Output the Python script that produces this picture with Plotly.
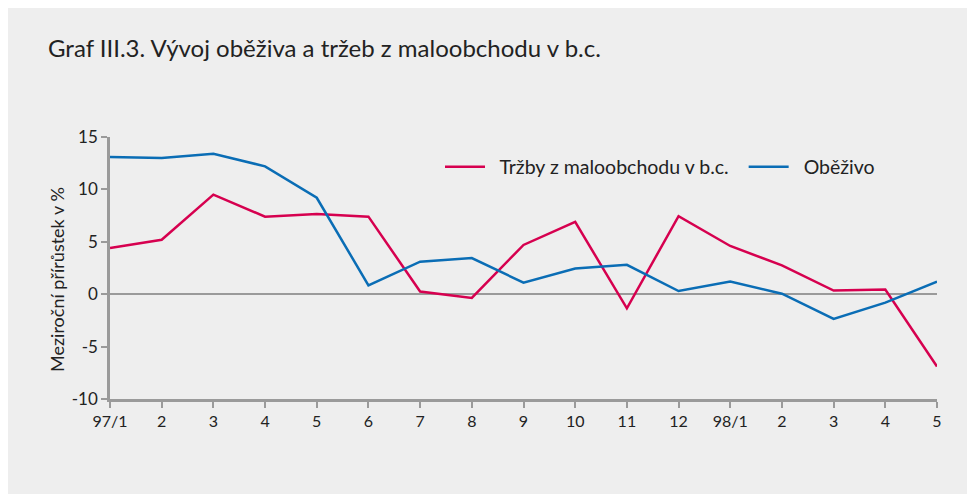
import plotly.graph_objects as go

categories = ["97/1", "2", "3", "4", "5", "6", "7", "8", "9", "10", "11", "12",
              "98/1", "2", "3", "4", "5"]
trzby = [4.4, 5.2, 9.5, 7.4, 7.65, 7.4, 0.25, -0.35, 4.7, 6.9, -1.35, 7.45,
         4.6, 2.75, 0.35, 0.45, -6.9]
obezivo = [13.1, 13.0, 13.4, 12.2, 9.2, 0.85, 3.1, 3.45, 1.1, 2.45, 2.8, 0.3,
           1.2, 0.05, -2.35, -0.8, 1.2]
y_ticks = [-10, -5, 0, 5, 10, 15]
y_tick_text = ["-10", "-5", "0", "5", "10", "15"]

FONT = "Lato, Open Sans, sans-serif"
RED = "#d6004f"
BLUE = "#0a6db5"
GRID = "#9a9a9a"
NB = "\u00a0"

x = list(range(len(categories)))

fig = go.Figure()
fig.add_trace(go.Scatter(x=x, y=trzby, mode="lines",
                         name=NB * 2 + "Tržby z maloobchodu v b.c." + NB * 2,
                         line=dict(color=RED, width=2.5)))
fig.add_trace(go.Scatter(x=x, y=obezivo, mode="lines", name=NB * 2 + "Oběživo",
                         line=dict(color=BLUE, width=2.5)))

OFF = 8  # page offset
L, R, T = 102, 46, 129
W, H = 975, 494
B = H - (399 - OFF)
pw, ph = W - L - R, H - T - B

def px(p):
    return (p - OFF - L) / pw

def py(p):
    return (H - B - (p - OFF)) / ph

fig.update_layout(
    width=W, height=H,
    margin=dict(l=L, r=R, t=T, b=B),
    paper_bgcolor="#eeeeee", plot_bgcolor="#eeeeee",
    font=dict(family=FONT, size=16, color="#222222"),
    showlegend=True,
    legend=dict(orientation="h", x=px(440), y=py(167), xanchor="left", yanchor="middle",
                bgcolor="rgba(0,0,0,0)", font=dict(size=19.5, family=FONT),
                itemwidth=40, traceorder="normal"),
    xaxis=dict(range=[0, 16], tickmode="array", tickvals=x, ticktext=categories,
               showgrid=False, zeroline=False, showline=True, linecolor=GRID, linewidth=2.5,
               ticks="outside", ticklen=6, tickwidth=2, tickcolor=GRID,
               tickfont=dict(size=16), fixedrange=True),
    yaxis=dict(range=[-10, 15], tickmode="array", tickvals=y_ticks, ticktext=y_tick_text,
               showgrid=False, zeroline=True, zerolinecolor=GRID, zerolinewidth=2,
               showline=True, linecolor=GRID, linewidth=2.5,
               ticks="outside", ticklen=6, tickwidth=2, tickcolor=GRID,
               tickfont=dict(size=17), fixedrange=True),
    annotations=[
        dict(text="Graf III.3. Vývoj oběživa a tržeb z maloobchodu v b.c.",
             xref="paper", yref="paper", x=px(46), y=py(47), xanchor="left", yanchor="middle",
             showarrow=False, font=dict(size=24, family=FONT, color="#222222")),
        dict(text="Meziroční přírůstek v %", xref="paper", yref="paper",
             x=px(57), y=py(280), xanchor="center", yanchor="middle", textangle=-90,
             showarrow=False, font=dict(size=18, family=FONT, color="#222222")),
    ],
)

fig.write_html("out.html")
